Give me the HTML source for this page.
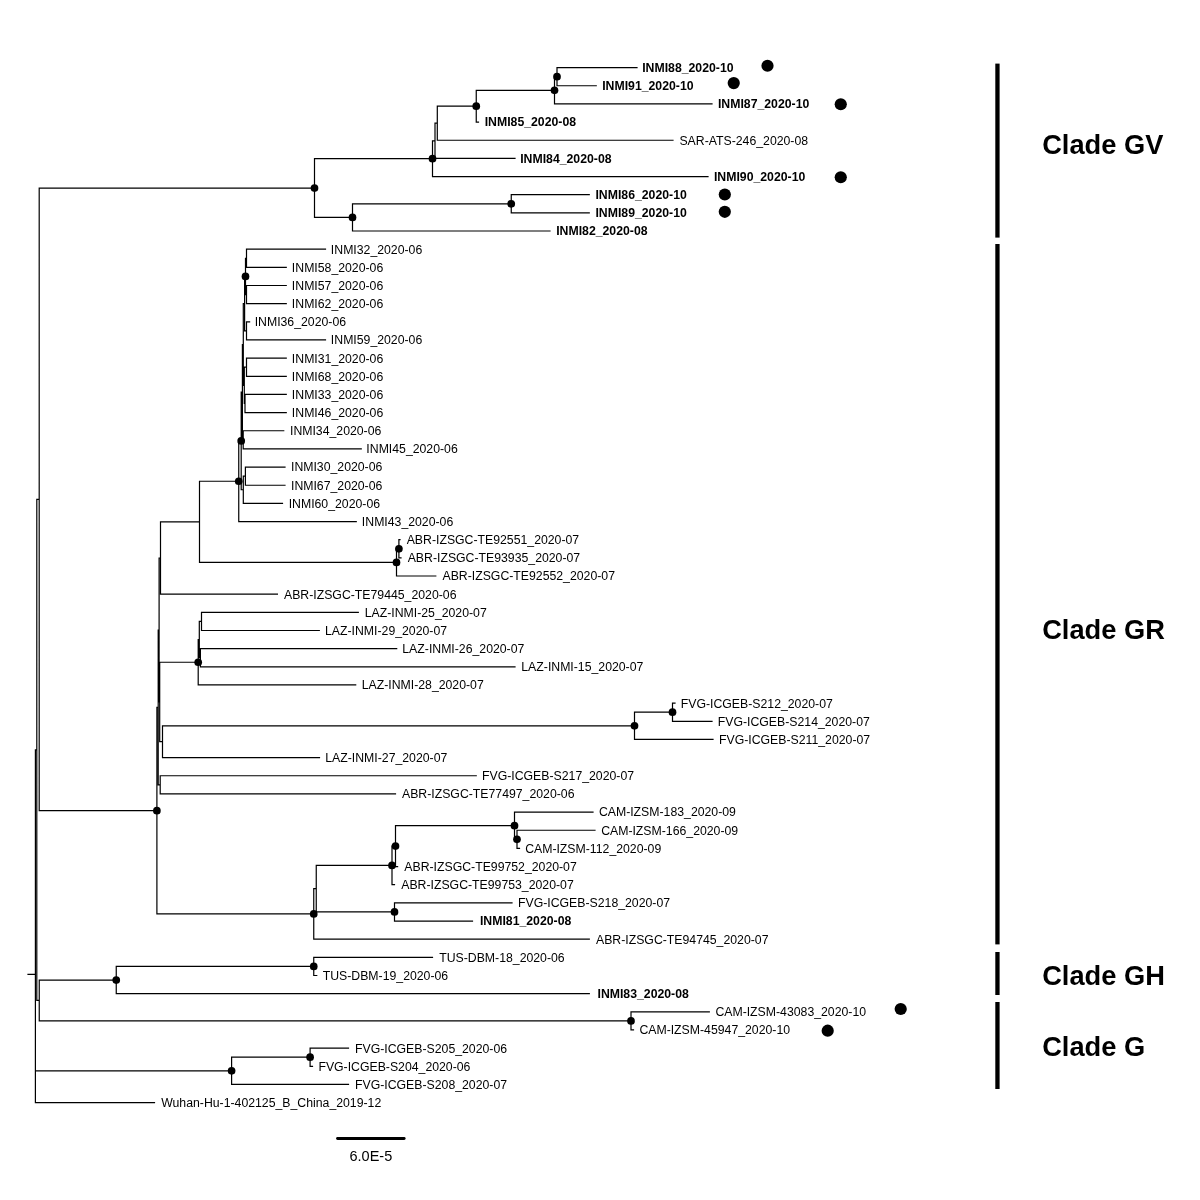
<!DOCTYPE html>
<html><head><meta charset="utf-8"><title>Phylogenetic tree</title>
<style>html,body{margin:0;padding:0;background:#fff;}svg{display:block;will-change:transform;}text{font-family:"Liberation Sans",sans-serif;fill:#000;}.t{font-size:12.28px;}.b{font-weight:bold;}.c{font-size:27.25px;font-weight:bold;}.s{font-size:14.5px;}</style></head><body>
<svg width="1200" height="1200" viewBox="0 0 1200 1200">
<rect width="1200" height="1200" fill="#fff"/>
<path d="M557 67.6L557 85.76M557 67.6L637 67.6M557 85.76L596.25 85.76M554.5 76.68L554.5 103.92M554.5 76.68L557 76.68M554.5 103.92L712 103.92M476.25 90.3L476.25 122.07M476.25 90.3L554.5 90.3M476.25 122.07L478.5 122.07M437.3 106.19L437.3 140.23M437.3 106.19L476.25 106.19M437.3 140.23L673 140.23M435 123.21L435 158.39M435 123.21L437.3 123.21M435 158.39L515 158.39M432.5 140.8L432.5 176.55M432.5 140.8L435 140.8M432.5 176.55L708 176.55M511.25 194.71L511.25 212.86M511.25 194.71L589.25 194.71M511.25 212.86L589.25 212.86M352.5 203.79L352.5 231.02M352.5 203.79L511.25 203.79M352.5 231.02L550 231.02M314.5 158.67L314.5 217.4M314.5 158.67L432.5 158.67M314.5 217.4L352.5 217.4M246.5 249.18L246.5 267.34M246.5 249.18L325.5 249.18M246.5 267.34L286.25 267.34M246.5 285.5L246.5 303.65M246.5 285.5L286.25 285.5M246.5 303.65L286.25 303.65M245.5 258.26L245.5 294.57M245.5 258.26L246.5 258.26M245.5 294.57L246.5 294.57M246.5 321.81L246.5 339.97M246.5 321.81L249.6 321.81M246.5 339.97L325.5 339.97M244.6 276.42L244.6 330.89M244.6 276.42L245.5 276.42M244.6 330.89L246.5 330.89M246.5 358.13L246.5 376.29M246.5 358.13L286.25 358.13M246.5 376.29L286.25 376.29M245 394.44L245 412.6M245 394.44L286.25 394.44M245 412.6L286.25 412.6M244.3 367.21L244.3 403.52M244.3 367.21L246.5 367.21M244.3 403.52L245 403.52M243.3 303.65L243.3 385.37M243.3 303.65L244.6 303.65M243.3 385.37L244.3 385.37M243.2 430.76L243.2 448.92M243.2 430.76L283.75 430.76M243.2 448.92L361.25 448.92M242.4 344.51L242.4 439.84M242.4 344.51L243.3 344.51M242.4 439.84L243.2 439.84M245.4 467.08L245.4 485.23M245.4 467.08L285 467.08M245.4 485.23L285 485.23M243.3 476.16L243.3 503.39M243.3 476.16L245.4 476.16M243.3 503.39L282.5 503.39M241.2 392.17L241.2 489.77M241.2 392.17L242.4 392.17M241.2 489.77L243.3 489.77M238.75 440.97L238.75 521.55M238.75 440.97L241.2 440.97M238.75 521.55L356.25 521.55M398.9 539.71L398.9 557.87M398.9 539.71L400 539.71M398.9 557.87L401 557.87M396.5 548.79L396.5 576.02M396.5 548.79L398.9 548.79M396.5 576.02L435.8 576.02M199.5 481.26L199.5 562.41M199.5 481.26L238.75 481.26M199.5 562.41L396.5 562.41M160.5 521.83L160.5 594.18M160.5 521.83L199.5 521.83M160.5 594.18L277.4 594.18M201.5 612.34L201.5 630.5M201.5 612.34L358.3 612.34M201.5 630.5L319.3 630.5M200.4 648.66L200.4 666.81M200.4 648.66L396.7 648.66M200.4 666.81L515 666.81M199.3 621.42L199.3 657.74M199.3 621.42L201.5 621.42M199.3 657.74L200.4 657.74M198.2 639.58L198.2 684.97M198.2 639.58L199.3 639.58M198.2 684.97L355.7 684.97M672.5 703.13L672.5 721.29M672.5 703.13L675 703.13M672.5 721.29L712 721.29M634.5 712.21L634.5 739.45M634.5 712.21L672.5 712.21M634.5 739.45L713 739.45M162.5 725.83L162.5 757.6M162.5 725.83L634.5 725.83M162.5 757.6L319.5 757.6M159.7 662.27L159.7 741.72M159.7 662.27L198.2 662.27M159.7 741.72L162.5 741.72M159.1 558.01L159.1 702M159.1 558.01L160.5 558.01M159.1 702L159.7 702M160.2 775.76L160.2 793.92M160.2 775.76L476.25 775.76M160.2 793.92L395.5 793.92M158.2 630L158.2 784.84M158.2 630L159.1 630M158.2 784.84L160.2 784.84M517 830.24L517 848.39M517 830.24L595 830.24M517 848.39L519.5 848.39M514.5 812.08L514.5 839.32M514.5 812.08L593 812.08M514.5 839.32L517 839.32M395.5 825.7L395.5 866.55M395.5 825.7L514.5 825.7M395.5 866.55L397.6 866.55M392 846.12L392 884.71M392 846.12L395.5 846.12M392 884.71L394.5 884.71M394.5 902.87L394.5 921.03M394.5 902.87L512 902.87M394.5 921.03L472.5 921.03M316.25 865.42L316.25 911.95M316.25 865.42L392 865.42M316.25 911.95L394.5 911.95M313.75 888.68L313.75 939.18M313.75 888.68L316.25 888.68M313.75 939.18L589.3 939.18M156.9 707.42L156.9 913.93M156.9 707.42L158.2 707.42M156.9 913.93L313.75 913.93M39.2 188.04L39.2 810.68M39.2 188.04L314.5 188.04M39.2 810.68L156.9 810.68M313.75 957.34L313.75 975.5M313.75 957.34L432.5 957.34M313.75 975.5L316.75 975.5M116.25 966.42L116.25 993.66M116.25 966.42L313.75 966.42M116.25 993.66L589.3 993.66M631 1011.82L631 1029.97M631 1011.82L709.3 1011.82M631 1029.97L633.5 1029.97M39.25 980.04L39.25 1020.89M39.25 980.04L116.25 980.04M39.25 1020.89L631 1020.89M36.8 499.36L36.8 1000.47M36.8 499.36L39.2 499.36M36.8 1000.47L39.25 1000.47M310.1 1048.13L310.1 1066.29M310.1 1048.13L348.5 1048.13M310.1 1066.29L312.5 1066.29M231.6 1057.21L231.6 1084.45M231.6 1057.21L310.1 1057.21M231.6 1084.45L348.5 1084.45M35.4 749.91L35.4 1102.61M35.4 749.91L36.8 749.91M35.4 1070.83L231.6 1070.83M35.4 1102.61L154.5 1102.61M28 974.45L35.4 974.45" fill="none" stroke="#000" stroke-width="1.2" stroke-linecap="square"/>
<circle cx="557" cy="76.68" r="3.85" fill="#000"/>
<circle cx="554.5" cy="90.3" r="3.85" fill="#000"/>
<circle cx="476.25" cy="106.19" r="3.85" fill="#000"/>
<circle cx="432.5" cy="158.67" r="3.85" fill="#000"/>
<circle cx="511.25" cy="203.79" r="3.85" fill="#000"/>
<circle cx="352.5" cy="217.4" r="3.85" fill="#000"/>
<circle cx="314.5" cy="188.04" r="3.85" fill="#000"/>
<circle cx="245.5" cy="276.42" r="3.85" fill="#000"/>
<circle cx="241.2" cy="440.97" r="3.85" fill="#000"/>
<circle cx="238.75" cy="481.26" r="3.85" fill="#000"/>
<circle cx="398.9" cy="548.79" r="3.85" fill="#000"/>
<circle cx="396.5" cy="562.41" r="3.85" fill="#000"/>
<circle cx="198.2" cy="662.27" r="3.85" fill="#000"/>
<circle cx="672.5" cy="712.21" r="3.85" fill="#000"/>
<circle cx="634.5" cy="725.83" r="3.85" fill="#000"/>
<circle cx="517" cy="839.32" r="3.85" fill="#000"/>
<circle cx="514.5" cy="825.7" r="3.85" fill="#000"/>
<circle cx="395.5" cy="846.12" r="3.85" fill="#000"/>
<circle cx="392" cy="865.42" r="3.85" fill="#000"/>
<circle cx="394.5" cy="911.95" r="3.85" fill="#000"/>
<circle cx="313.75" cy="913.93" r="3.85" fill="#000"/>
<circle cx="156.9" cy="810.68" r="3.85" fill="#000"/>
<circle cx="313.75" cy="966.42" r="3.85" fill="#000"/>
<circle cx="116.25" cy="980.04" r="3.85" fill="#000"/>
<circle cx="631" cy="1020.89" r="3.85" fill="#000"/>
<circle cx="310.1" cy="1057.21" r="3.85" fill="#000"/>
<circle cx="231.6" cy="1070.83" r="3.85" fill="#000"/>
<text class="t b" x="642.18" y="72">INMI88_2020-10</text>
<circle cx="767.5" cy="65.75" r="6.1" fill="#000"/>
<text class="t b" x="602.18" y="90.16">INMI91_2020-10</text>
<circle cx="733.75" cy="83.1" r="6.1" fill="#000"/>
<text class="t b" x="717.93" y="108.32">INMI87_2020-10</text>
<circle cx="840.75" cy="104.25" r="6.1" fill="#000"/>
<text class="t b" x="484.68" y="126.47">INMI85_2020-08</text>
<text class="t" x="679.45" y="144.63">SAR-ATS-246_2020-08</text>
<text class="t b" x="520.18" y="162.79">INMI84_2020-08</text>
<text class="t b" x="713.93" y="180.95">INMI90_2020-10</text>
<circle cx="840.75" cy="177.25" r="6.1" fill="#000"/>
<text class="t b" x="595.43" y="199.11">INMI86_2020-10</text>
<circle cx="724.8" cy="194.5" r="6.1" fill="#000"/>
<text class="t b" x="595.43" y="217.26">INMI89_2020-10</text>
<circle cx="724.8" cy="211.8" r="6.1" fill="#000"/>
<text class="t b" x="556.18" y="235.42">INMI82_2020-08</text>
<text class="t" x="330.87" y="253.58">INMI32_2020-06</text>
<text class="t" x="291.87" y="271.74">INMI58_2020-06</text>
<text class="t" x="291.87" y="289.9">INMI57_2020-06</text>
<text class="t" x="291.87" y="308.05">INMI62_2020-06</text>
<text class="t" x="254.67" y="326.21">INMI36_2020-06</text>
<text class="t" x="330.87" y="344.37">INMI59_2020-06</text>
<text class="t" x="291.87" y="362.53">INMI31_2020-06</text>
<text class="t" x="291.87" y="380.69">INMI68_2020-06</text>
<text class="t" x="291.87" y="398.84">INMI33_2020-06</text>
<text class="t" x="291.87" y="417">INMI46_2020-06</text>
<text class="t" x="289.97" y="435.16">INMI34_2020-06</text>
<text class="t" x="366.37" y="453.32">INMI45_2020-06</text>
<text class="t" x="290.97" y="471.48">INMI30_2020-06</text>
<text class="t" x="290.97" y="489.63">INMI67_2020-06</text>
<text class="t" x="288.67" y="507.79">INMI60_2020-06</text>
<text class="t" x="361.87" y="525.95">INMI43_2020-06</text>
<text class="t" x="406.68" y="544.11">ABR-IZSGC-TE92551_2020-07</text>
<text class="t" x="407.68" y="562.27">ABR-IZSGC-TE93935_2020-07</text>
<text class="t" x="442.48" y="580.42">ABR-IZSGC-TE92552_2020-07</text>
<text class="t" x="283.98" y="598.58">ABR-IZSGC-TE79445_2020-06</text>
<text class="t" x="364.7" y="616.74">LAZ-INMI-25_2020-07</text>
<text class="t" x="325" y="634.9">LAZ-INMI-29_2020-07</text>
<text class="t" x="402.3" y="653.06">LAZ-INMI-26_2020-07</text>
<text class="t" x="521.3" y="671.21">LAZ-INMI-15_2020-07</text>
<text class="t" x="361.7" y="689.37">LAZ-INMI-28_2020-07</text>
<text class="t" x="680.75" y="707.53">FVG-ICGEB-S212_2020-07</text>
<text class="t" x="717.75" y="725.69">FVG-ICGEB-S214_2020-07</text>
<text class="t" x="719" y="743.85">FVG-ICGEB-S211_2020-07</text>
<text class="t" x="325.25" y="762">LAZ-INMI-27_2020-07</text>
<text class="t" x="482" y="780.16">FVG-ICGEB-S217_2020-07</text>
<text class="t" x="401.98" y="798.32">ABR-IZSGC-TE77497_2020-06</text>
<text class="t" x="598.88" y="816.48">CAM-IZSM-183_2020-09</text>
<text class="t" x="601.13" y="834.64">CAM-IZSM-166_2020-09</text>
<text class="t" x="525.13" y="852.79">CAM-IZSM-112_2020-09</text>
<text class="t" x="404.28" y="870.95">ABR-IZSGC-TE99752_2020-07</text>
<text class="t" x="401.23" y="889.11">ABR-IZSGC-TE99753_2020-07</text>
<text class="t" x="518" y="907.27">FVG-ICGEB-S218_2020-07</text>
<text class="t b" x="479.93" y="925.43">INMI81_2020-08</text>
<text class="t" x="595.98" y="943.58">ABR-IZSGC-TE94745_2020-07</text>
<text class="t" x="439.23" y="961.74">TUS-DBM-18_2020-06</text>
<text class="t" x="322.73" y="979.9">TUS-DBM-19_2020-06</text>
<text class="t b" x="597.48" y="998.06">INMI83_2020-08</text>
<text class="t" x="715.38" y="1016.22">CAM-IZSM-43083_2020-10</text>
<circle cx="900.7" cy="1009" r="6.1" fill="#000"/>
<text class="t" x="639.38" y="1034.37">CAM-IZSM-45947_2020-10</text>
<circle cx="827.7" cy="1030.7" r="6.1" fill="#000"/>
<text class="t" x="355" y="1052.53">FVG-ICGEB-S205_2020-06</text>
<text class="t" x="318.4" y="1070.69">FVG-ICGEB-S204_2020-06</text>
<text class="t" x="355" y="1088.85">FVG-ICGEB-S208_2020-07</text>
<text class="t" x="161.2" y="1107.01">Wuhan-Hu-1-402125_B_China_2019-12</text>
<rect x="995.3" y="63.6" width="4.3" height="174" fill="#000"/>
<rect x="995.3" y="244" width="4.3" height="700.4" fill="#000"/>
<rect x="995.3" y="952" width="4.3" height="43" fill="#000"/>
<rect x="995.3" y="1002" width="4.3" height="87" fill="#000"/>
<text class="c" x="1042.2" y="153.8">Clade GV</text>
<text class="c" x="1042.2" y="638.9">Clade GR</text>
<text class="c" x="1042.2" y="984.5">Clade GH</text>
<text class="c" x="1042.2" y="1056">Clade G</text>
<line x1="337.5" y1="1138.5" x2="404.2" y2="1138.5" stroke="#000" stroke-width="2.8" stroke-linecap="round"/>
<text class="s" x="370.85" y="1160.7" text-anchor="middle">6.0E-5</text>
</svg></body></html>
